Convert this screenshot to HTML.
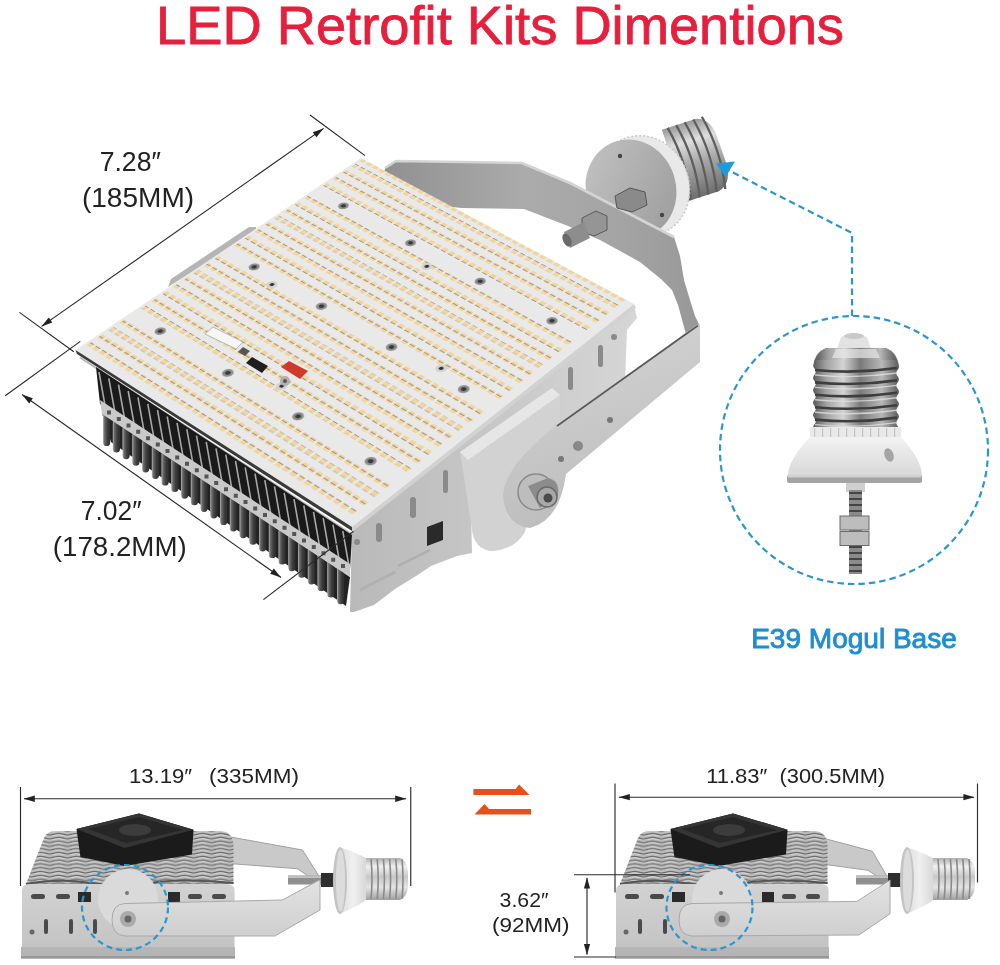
<!DOCTYPE html>
<html><head><meta charset="utf-8">
<style>
html,body{margin:0;padding:0;background:#fff;}
body{width:1000px;height:965px;position:relative;overflow:hidden;font-family:"Liberation Sans",sans-serif;}
svg{position:absolute;left:0;top:0;}
.t{font-family:"Liberation Sans",sans-serif;fill:#222;}
</style></head><body>
<svg width="1000" height="965" viewBox="0 0 1000 965"><defs>
<linearGradient id="gStrap" x1="0" y1="0" x2="1" y2="0">
 <stop offset="0" stop-color="#909090"/><stop offset="0.45" stop-color="#ababab"/><stop offset="0.75" stop-color="#a4a4a4"/><stop offset="1" stop-color="#989898"/>
</linearGradient>
<linearGradient id="gDisc" x1="0" y1="0" x2="1" y2="1">
 <stop offset="0" stop-color="#c4c4c4"/><stop offset="1" stop-color="#9a9a9a"/>
</linearGradient>
<linearGradient id="gScrew" x1="0" y1="0" x2="0" y2="1">
 <stop offset="0" stop-color="#7a7a7a"/><stop offset="0.35" stop-color="#d8d8d8"/><stop offset="0.6" stop-color="#8a8a8a"/><stop offset="1" stop-color="#6a6a6a"/>
</linearGradient>
<linearGradient id="gScrewV" x1="0" y1="0" x2="1" y2="0">
 <stop offset="0" stop-color="#5a5a5a"/><stop offset="0.15" stop-color="#a0a0a0"/><stop offset="0.35" stop-color="#d4d4d4"/><stop offset="0.55" stop-color="#7a7a7a"/><stop offset="0.8" stop-color="#b8b8b8"/><stop offset="1" stop-color="#5a5a5a"/>
</linearGradient>
<linearGradient id="gHouse" x1="0" y1="0" x2="1" y2="0">
 <stop offset="0" stop-color="#b9b9b9"/><stop offset="1" stop-color="#d6d6d6"/>
</linearGradient>
<linearGradient id="gDome" x1="0" y1="0" x2="0" y2="1">
 <stop offset="0" stop-color="#f2f2f2"/><stop offset="1" stop-color="#d8d8d8"/>
</linearGradient>
<pattern id="finsUp" width="10.2" height="40" patternUnits="userSpaceOnUse" patternTransform="skewY(0)">
 <rect width="10.2" height="40" fill="#1f1f1f"/><rect x="0" width="2.4" height="40" fill="#b0b0b0"/>
</pattern>
<pattern id="finsLo" width="10.2" height="60" patternUnits="userSpaceOnUse">
 <rect width="10.2" height="60" fill="#3a3a3a"/><rect x="1" width="3" height="60" fill="#9a9a9a"/><rect x="4" width="2" height="60" fill="#666"/>
</pattern>
<pattern id="wavy" width="18" height="3.8" patternUnits="userSpaceOnUse">
 <rect width="18" height="3.8" fill="#bcbcbc"/>
 <path d="M0,2.1 Q4.5,0.5 9,2.1 T18,2.1" stroke="#666" stroke-width="1.2" fill="none"/>
 <path d="M0,3.3 Q4.5,1.7 9,3.3 T18,3.3" stroke="#e2e2e2" stroke-width="0.7" fill="none"/>
</pattern>
<pattern id="thread" width="4" height="6" patternUnits="userSpaceOnUse">
 <rect width="4" height="6" fill="#8a8a8a"/><rect y="0" width="4" height="2" fill="#444"/>
</pattern>
<linearGradient id="gHouseB" x1="0" y1="0" x2="0" y2="1">
 <stop offset="0" stop-color="#d2d2d2"/><stop offset="1" stop-color="#c4c4c4"/>
</linearGradient>
<linearGradient id="gCone" x1="0" y1="0" x2="1" y2="0">
 <stop offset="0" stop-color="#dcdcdc"/><stop offset="0.5" stop-color="#f0f0f0"/><stop offset="1" stop-color="#d6d6d6"/>
</linearGradient>
<linearGradient id="gBand" x1="0" y1="0" x2="0" y2="1">
 <stop offset="0" stop-color="#e2e2e2"/><stop offset="1" stop-color="#cfcfcf"/>
</linearGradient>
<linearGradient id="gScrewT" x1="0" y1="0" x2="0" y2="1">
 <stop offset="0" stop-color="#9a9a9a"/><stop offset="0.25" stop-color="#dedede"/><stop offset="0.55" stop-color="#a8a8a8"/><stop offset="1" stop-color="#6e6e6e"/>
</linearGradient>
<linearGradient id="gTube" x1="0" y1="0" x2="1" y2="0">
 <stop offset="0" stop-color="#b8b8b8"/><stop offset="0.22" stop-color="#6a6a6a"/><stop offset="0.6" stop-color="#3e3e3e"/><stop offset="1" stop-color="#2c2c2c"/>
</linearGradient>
<linearGradient id="gScrewS" x1="0" y1="0" x2="0" y2="1">
 <stop offset="0" stop-color="#b0b0b0"/><stop offset="0.2" stop-color="#f0f0f0"/><stop offset="0.45" stop-color="#c8c8c8"/><stop offset="0.7" stop-color="#e4e4e4"/><stop offset="1" stop-color="#a0a0a0"/>
</linearGradient>
<linearGradient id="gBandT" x1="0" y1="0" x2="0.3" y2="1">
 <stop offset="0" stop-color="#d6d6d6"/><stop offset="1" stop-color="#bdbdbd"/>
</linearGradient>
</defs><g transform="translate(667,168) rotate(-18)"><path d="M7,-38 L42,-38 Q54,-36 57,-20 L58,17 Q55,36 42,38 L7,38 Z" fill="url(#gScrewT)"/><path d="M13,-38 Q21,0 13,38" stroke="#5e5e5e" stroke-width="2.3" fill="none"/><path d="M22,-38 Q30,0 22,38" stroke="#5e5e5e" stroke-width="2.3" fill="none"/><path d="M31,-38 Q39,0 31,38" stroke="#5e5e5e" stroke-width="2.3" fill="none"/><path d="M40,-38 Q48,0 40,38" stroke="#5e5e5e" stroke-width="2.3" fill="none"/><path d="M49,-38 Q57,0 49,38" stroke="#5e5e5e" stroke-width="2.3" fill="none"/></g><ellipse cx="643" cy="186" rx="46" ry="51" transform="rotate(-22 643 186)" fill="#e9e9e9"/><ellipse cx="643" cy="186" rx="46" ry="51" transform="rotate(-22 643 186)" fill="none" stroke="#c8c8c8" stroke-width="1.5" stroke-dasharray="2 2"/><ellipse cx="631" cy="189" rx="45" ry="50" transform="rotate(-18 631 189)" fill="url(#gDisc)"/><circle cx="620" cy="156" r="2.2" fill="#444"/><circle cx="662" cy="215" r="2.2" fill="#444"/><polygon points="385,168 396,161 522,163 570,183 674,237 680,256 684,280 690,300 695,316 700,326 700,334 686,334 684,327 678,305 672,290 661,279 640,262 600,240 568,226 524,209 462,208 380,200" fill="url(#gStrap)"/><polyline points="385,168 396,161 522,163 570,183 674,237" fill="none" stroke="#d4d4d4" stroke-width="2.6"/><polygon points="615,196 630,188 645,192 647,205 632,212 617,208" fill="#8a8a8a" stroke="#555" stroke-width="1"/><polygon points="582,218 596,211 607,216 607,230 594,236 582,232" fill="#959595" stroke="#5a5a5a" stroke-width="1"/><polygon points="564,232 584,222 590,238 570,248" fill="#8d8d8d"/><ellipse cx="567" cy="240" rx="4" ry="7" transform="rotate(-25 567 240)" fill="#6a6a6a"/><polygon points="168,287 171,279 249,227 256,227 256,232" fill="#b5b5b5"/><polygon points="352,527 634,306 637,318 627,330 625,382 600,420 560,440 470,470 472,553 457,556 431,566 416,576 395,589 374,605 354,612 350,612" fill="url(#gHouse)"/><g fill="#8a8a8a"><rect x="376" y="523" width="6" height="19" rx="3"/><rect x="410" y="497" width="6" height="21" rx="3"/><rect x="443" y="470" width="5" height="23" rx="2.5"/><rect x="568" y="367" width="5" height="23" rx="2.5"/><rect x="598" y="345" width="5" height="22" rx="2.5"/><circle cx="357" cy="542" r="3"/><circle cx="614" cy="337" r="3"/></g><path d="M427,527 L443,521 L443,540 L427,546 Z" fill="#2a2a2a"/><path d="M360,590 L395,572 M398,566 L430,550" stroke="#b0b0b0" stroke-width="3" fill="none"/><line x1="80" y1="357.5" x2="352" y2="534.5" stroke="#b8b8b8" stroke-width="2"/><polygon points="96,367 352,535 350,570 100,404" fill="#1a1a1a"/><path d="M99.0,372.0 L105.0,405.3 M108.8,378.3 L114.8,411.7 M118.5,384.7 L124.5,418.1 M128.2,391.0 L134.2,424.5 M138.0,397.4 L144.0,430.9 M147.8,403.8 L153.8,437.3 M157.5,410.1 L163.5,443.7 M167.2,416.5 L173.2,450.1 M177.0,422.8 L183.0,456.4 M186.8,429.2 L192.8,462.8 M196.5,435.6 L202.5,469.2 M206.2,441.9 L212.2,475.6 M216.0,448.3 L222.0,482.0 M225.8,454.6 L231.8,488.4 M235.5,461.0 L241.5,494.8 M245.2,467.4 L251.2,501.2 M255.0,473.7 L261.0,507.6 M264.8,480.1 L270.8,514.0 M274.5,486.4 L280.5,520.4 M284.2,492.8 L290.2,526.8 M294.0,499.2 L300.0,533.2 M303.8,505.5 L309.8,539.6 M313.5,511.9 L319.5,546.0 M323.2,518.2 L329.2,552.4 M333.0,524.6 L339.0,558.8 M342.8,531.0 L348.8,565.2" stroke="#a8a8a8" stroke-width="1.6" fill="none"/><polygon points="102,413 350,577 346,606 111,442" fill="#222"/><rect x="103.0" y="413.0" width="7.2" height="33.0" rx="3.6" fill="url(#gTube)"/><rect x="112.8" y="419.4" width="7.2" height="33.2" rx="3.6" fill="url(#gTube)"/><rect x="122.5" y="425.8" width="7.2" height="33.4" rx="3.6" fill="url(#gTube)"/><rect x="132.2" y="432.2" width="7.2" height="33.6" rx="3.6" fill="url(#gTube)"/><rect x="142.0" y="438.6" width="7.2" height="33.8" rx="3.6" fill="url(#gTube)"/><rect x="151.8" y="444.9" width="7.2" height="34.0" rx="3.6" fill="url(#gTube)"/><rect x="161.5" y="451.3" width="7.2" height="34.2" rx="3.6" fill="url(#gTube)"/><rect x="171.2" y="457.7" width="7.2" height="34.4" rx="3.6" fill="url(#gTube)"/><rect x="181.0" y="464.1" width="7.2" height="34.6" rx="3.6" fill="url(#gTube)"/><rect x="190.8" y="470.5" width="7.2" height="34.8" rx="3.6" fill="url(#gTube)"/><rect x="200.5" y="476.9" width="7.2" height="35.0" rx="3.6" fill="url(#gTube)"/><rect x="210.2" y="483.3" width="7.2" height="35.1" rx="3.6" fill="url(#gTube)"/><rect x="220.0" y="489.7" width="7.2" height="35.3" rx="3.6" fill="url(#gTube)"/><rect x="229.8" y="496.1" width="7.2" height="35.5" rx="3.6" fill="url(#gTube)"/><rect x="239.5" y="502.5" width="7.2" height="35.7" rx="3.6" fill="url(#gTube)"/><rect x="249.2" y="508.9" width="7.2" height="35.9" rx="3.6" fill="url(#gTube)"/><rect x="259.0" y="515.3" width="7.2" height="36.1" rx="3.6" fill="url(#gTube)"/><rect x="268.8" y="521.7" width="7.2" height="36.3" rx="3.6" fill="url(#gTube)"/><rect x="278.5" y="528.1" width="7.2" height="36.5" rx="3.6" fill="url(#gTube)"/><rect x="288.2" y="534.5" width="7.2" height="36.7" rx="3.6" fill="url(#gTube)"/><rect x="298.0" y="540.9" width="7.2" height="36.9" rx="3.6" fill="url(#gTube)"/><rect x="307.8" y="547.3" width="7.2" height="37.1" rx="3.6" fill="url(#gTube)"/><rect x="317.5" y="553.7" width="7.2" height="37.3" rx="3.6" fill="url(#gTube)"/><rect x="327.2" y="560.1" width="7.2" height="37.5" rx="3.6" fill="url(#gTube)"/><rect x="337.0" y="566.5" width="7.2" height="37.7" rx="3.6" fill="url(#gTube)"/><polygon points="100,400 350,564 350,577 102,414" fill="#c9c9c9"/><path d="M107.0,410.6 h4 v4 h-4 Z M116.8,417.0 h4 v4 h-4 Z M126.5,423.4 h4 v4 h-4 Z M136.2,429.8 h4 v4 h-4 Z M146.0,436.2 h4 v4 h-4 Z M155.8,442.6 h4 v4 h-4 Z M165.5,449.0 h4 v4 h-4 Z M175.2,455.4 h4 v4 h-4 Z M185.0,461.8 h4 v4 h-4 Z M194.8,468.2 h4 v4 h-4 Z M204.5,474.6 h4 v4 h-4 Z M214.2,480.9 h4 v4 h-4 Z M224.0,487.3 h4 v4 h-4 Z M233.8,493.7 h4 v4 h-4 Z M243.5,500.1 h4 v4 h-4 Z M253.2,506.5 h4 v4 h-4 Z M263.0,512.9 h4 v4 h-4 Z M272.8,519.3 h4 v4 h-4 Z M282.5,525.7 h4 v4 h-4 Z M292.2,532.1 h4 v4 h-4 Z M302.0,538.5 h4 v4 h-4 Z M311.8,544.9 h4 v4 h-4 Z M321.5,551.3 h4 v4 h-4 Z M331.2,557.7 h4 v4 h-4 Z M341.0,564.1 h4 v4 h-4 Z" fill="#555"/></svg>
<div style="position:absolute;left:0;top:0;width:400px;height:400px;transform-origin:0 0;transform:matrix3d(0.56953482,0.31083373,0,-0.00017817851,-0.72985931,0.40532109,0,-0.00021336832,0,0,1,0,361,158,0,1)"><svg width="400" height="400" viewBox="0 0 400 400" style="display:block;position:static"><defs><pattern id="ledrow" width="10" height="6" patternUnits="userSpaceOnUse"><rect x="1.6" y="0" width="6.8" height="4.8" fill="#f2d597"/><rect x="1.6" y="4.8" width="6.8" height="1.2" fill="#9a938a"/></pattern></defs><rect width="400" height="400" fill="#e9e9ea"/><rect x="3" y="-1.5" width="388" height="6" fill="url(#ledrow)"/><rect x="3" y="10.8" width="388" height="6" fill="url(#ledrow)"/><rect x="3" y="25.2" width="388" height="6" fill="url(#ledrow)"/><rect x="3" y="39.6" width="388" height="6" fill="url(#ledrow)"/><rect x="3" y="54.0" width="388" height="6" fill="url(#ledrow)"/><rect x="3" y="82.0" width="388" height="6" fill="url(#ledrow)"/><rect x="3" y="96.4" width="388" height="6" fill="url(#ledrow)"/><rect x="3" y="110.9" width="388" height="6" fill="url(#ledrow)"/><rect x="3" y="125.3" width="388" height="6" fill="url(#ledrow)"/><rect x="3" y="139.7" width="388" height="6" fill="url(#ledrow)"/><rect x="3" y="154.1" width="388" height="6" fill="url(#ledrow)"/><rect x="3" y="168.6" width="388" height="6" fill="url(#ledrow)"/><rect x="3" y="183.0" width="388" height="6" fill="url(#ledrow)"/><rect x="3" y="211.0" width="388" height="6" fill="url(#ledrow)"/><rect x="3" y="225.3" width="388" height="6" fill="url(#ledrow)"/><rect x="3" y="239.6" width="388" height="6" fill="url(#ledrow)"/><rect x="3" y="253.9" width="388" height="6" fill="url(#ledrow)"/><rect x="3" y="268.1" width="388" height="6" fill="url(#ledrow)"/><rect x="3" y="282.4" width="388" height="6" fill="url(#ledrow)"/><rect x="3" y="296.7" width="388" height="6" fill="url(#ledrow)"/><rect x="3" y="311.0" width="388" height="6" fill="url(#ledrow)"/><rect x="3" y="339.0" width="388" height="6" fill="url(#ledrow)"/><rect x="3" y="353.4" width="388" height="6" fill="url(#ledrow)"/><rect x="3" y="367.8" width="388" height="6" fill="url(#ledrow)"/><rect x="3" y="382.2" width="388" height="6" fill="url(#ledrow)"/><circle cx="46" cy="71" r="5.8" fill="#8e8e8e"/><circle cx="46" cy="71" r="2.8" fill="#3a3a3a"/><circle cx="148" cy="71" r="5.8" fill="#8e8e8e"/><circle cx="148" cy="71" r="2.8" fill="#3a3a3a"/><circle cx="250" cy="71" r="5.8" fill="#8e8e8e"/><circle cx="250" cy="71" r="2.8" fill="#3a3a3a"/><circle cx="351" cy="71" r="5.8" fill="#8e8e8e"/><circle cx="351" cy="71" r="2.8" fill="#3a3a3a"/><circle cx="46" cy="200" r="5.8" fill="#8e8e8e"/><circle cx="46" cy="200" r="2.8" fill="#3a3a3a"/><circle cx="148" cy="200" r="5.8" fill="#8e8e8e"/><circle cx="148" cy="200" r="2.8" fill="#3a3a3a"/><circle cx="250" cy="200" r="5.8" fill="#8e8e8e"/><circle cx="250" cy="200" r="2.8" fill="#3a3a3a"/><circle cx="351" cy="200" r="5.8" fill="#8e8e8e"/><circle cx="351" cy="200" r="2.8" fill="#3a3a3a"/><circle cx="46" cy="328" r="5.8" fill="#8e8e8e"/><circle cx="46" cy="328" r="2.8" fill="#3a3a3a"/><circle cx="148" cy="328" r="5.8" fill="#8e8e8e"/><circle cx="148" cy="328" r="2.8" fill="#3a3a3a"/><circle cx="250" cy="328" r="5.8" fill="#8e8e8e"/><circle cx="250" cy="328" r="2.8" fill="#3a3a3a"/><circle cx="351" cy="328" r="5.8" fill="#8e8e8e"/><circle cx="351" cy="328" r="2.8" fill="#3a3a3a"/><circle cx="189" cy="88" r="5.8" fill="#d2d2d2"/><circle cx="189" cy="88" r="2.4" fill="#333"/><circle cx="82" cy="208" r="5.8" fill="#d2d2d2"/><circle cx="82" cy="208" r="2.4" fill="#333"/><circle cx="312" cy="192" r="5.8" fill="#d2d2d2"/><circle cx="312" cy="192" r="2.4" fill="#333"/><circle cx="205" cy="308" r="5.8" fill="#d2d2d2"/><circle cx="205" cy="308" r="2.4" fill="#333"/></svg></div>
<svg width="1000" height="965" viewBox="0 0 1000 965"><polygon points="75.5,350 352,527 352,531 77,354" fill="#3a3a3a"/><polygon points="205,334 213,327 243,342 236,349" fill="#f6f6f6" stroke="#aaa" stroke-width="0.8"/><polygon points="238,352 243,347 250,351 245,356" fill="#555"/><polygon points="246,363 252,357 268,366 262,373" fill="#1e1e1e"/><polygon points="281,367 289,361 308,371 300,379" fill="#d03a2a"/><circle cx="285" cy="381" r="5" fill="#b0b0b0"/><circle cx="285" cy="381" r="2" fill="#555"/><polygon points="352,527 634,304 636,308 352,532" fill="#d2d2d2"/><path d="M460,452 L552,388 L560,395 L560,430 L540,470 L525,532 Q515,550 490,551 Q474,548 472,530 L463,470 Z" fill="#d2d2d2"/><path d="M460,452 L552,388 L560,395 L468,460 Z" fill="#e6e6e6"/><path d="M698,324 L700,326 L700,362 L566,474 Q560,520 530,528 Q505,525 503,495 Q505,465 557,425 Z" fill="url(#gBandT)"/><path d="M698,325.5 L557,426" stroke="#5a5a5a" stroke-width="1.6" fill="none"/><circle cx="536" cy="492" r="18" fill="#bdbdbd" stroke="#8a8a8a" stroke-width="1.5"/><path d="M528,486 L548,478 Q560,480 558,496 L540,508 Z" fill="#8c8c8c"/><circle cx="547" cy="497" r="10" fill="#a8a8a8" stroke="#6a6a6a" stroke-width="1.5"/><circle cx="548" cy="498" r="4.5" fill="#4a4a4a"/><circle cx="610" cy="420" r="3" fill="#777"/><circle cx="578" cy="446" r="5" fill="#888"/><circle cx="561" cy="459" r="3" fill="#777"/><g stroke="#2a2a2a" stroke-width="1.15" fill="none"><line x1="310" y1="115" x2="365" y2="155.6"/><line x1="19.4" y1="312.4" x2="73.8" y2="351.8"/><line x1="41.5" y1="326.4" x2="323.6" y2="128.4"/><line x1="5.2" y1="395.8" x2="80.3" y2="341.4"/><line x1="263.4" y1="599.6" x2="353.5" y2="531.2"/><line x1="22" y1="394.5" x2="281" y2="577.5"/></g><polygon points="323.6,128.4 316.4,137.3 312.8,132.2" fill="#222"/><polygon points="41.5,326.4 48.7,317.5 52.3,322.6" fill="#222"/><polygon points="22.0,394.5 32.8,398.3 29.2,403.4" fill="#222"/><polygon points="281.0,577.5 270.2,573.7 273.8,568.6" fill="#222"/><text x="99.67" y="171.10" font-size="27" font-weight="normal" fill="#222" font-family="Liberation Sans" textLength="61.25" lengthAdjust="spacingAndGlyphs">7.28″</text><text x="81.94" y="206.90" font-size="27" font-weight="normal" fill="#222" font-family="Liberation Sans" textLength="112.14" lengthAdjust="spacingAndGlyphs">(185MM)</text><text x="80.73" y="520.10" font-size="27" font-weight="normal" fill="#222" font-family="Liberation Sans" textLength="60.98" lengthAdjust="spacingAndGlyphs">7.02″</text><text x="52.86" y="555.90" font-size="27" font-weight="normal" fill="#222" font-family="Liberation Sans" textLength="133.80" lengthAdjust="spacingAndGlyphs">(178.2MM)</text><g stroke="#2a97d0" stroke-width="2.2" fill="none" stroke-dasharray="6.5 4"><circle cx="854" cy="450" r="134"/><polyline points="852,316 852,233 728,170"/></g><polygon points="716,163.5 735,161.5 725.5,177" fill="#1d9be0"/><path d="M837,349 L841,337 Q854,331 867,337 L871,349 Z" fill="#e2e2e2"/><ellipse cx="854" cy="336" rx="10" ry="3" fill="#c9c9c9"/><path d="M826,348 L886,348 Q897,352 899,366 L898.9,367.5 L898.3,369.1 L897.2,370.6 L896.4,372.1 L896.3,373.7 L896.9,375.2 L898.0,376.8 L898.8,378.4 L898.9,379.9 L898.3,381.4 L897.2,383.0 L896.4,384.6 L896.3,386.1 L896.9,387.6 L898.0,389.2 L898.8,390.8 L898.9,392.3 L898.3,393.9 L897.2,395.4 L896.4,396.9 L896.3,398.5 L896.9,400.1 L898.0,401.6 L898.8,403.1 L898.9,404.7 L898.3,406.2 L897.2,407.8 L896.4,409.4 L896.3,410.9 L896.9,412.4 L898.0,414.0 L898.8,415.6 L898.9,417.1 L898.3,418.6 L897.2,420.2 L896.4,421.8 L896.3,423.3 L896.9,424.9 L898.0,426.4 L898.8,427.9 L898.9,429.5 L813,429 L813.1,428.0 L813.2,426.4 L814.0,424.9 L815.1,423.4 L815.7,421.8 L815.6,420.2 L814.8,418.7 L813.7,417.1 L813.1,415.6 L813.2,414.1 L814.0,412.5 L815.1,410.9 L815.7,409.4 L815.6,407.9 L814.8,406.3 L813.7,404.8 L813.1,403.2 L813.2,401.6 L814.0,400.1 L815.1,398.6 L815.7,397.0 L815.6,395.4 L814.8,393.9 L813.7,392.4 L813.1,390.8 L813.2,389.2 L814.0,387.7 L815.1,386.1 L815.7,384.6 L815.6,383.1 L814.8,381.5 L813.7,379.9 L813.1,378.4 L813.2,376.9 L814.0,375.3 L815.1,373.8 L815.7,372.2 L815.6,370.6 L814.8,369.1 L813.7,367.6 L813.1,366.0 Q815,352 826,348 Z" fill="url(#gScrewV)"/><path d="M815,370.0 Q856,374.0 897,368.0" stroke="#3e3e3e" stroke-width="2.6" fill="none"/><path d="M815,375.0 Q856,379.0 897,373.0" stroke="#e0e0e0" stroke-width="1.4" fill="none" opacity="0.8"/><path d="M815,382.4 Q856,386.4 897,380.4" stroke="#3e3e3e" stroke-width="2.6" fill="none"/><path d="M815,387.4 Q856,391.4 897,385.4" stroke="#e0e0e0" stroke-width="1.4" fill="none" opacity="0.8"/><path d="M815,394.8 Q856,398.8 897,392.8" stroke="#3e3e3e" stroke-width="2.6" fill="none"/><path d="M815,399.8 Q856,403.8 897,397.8" stroke="#e0e0e0" stroke-width="1.4" fill="none" opacity="0.8"/><path d="M815,407.2 Q856,411.2 897,405.2" stroke="#3e3e3e" stroke-width="2.6" fill="none"/><path d="M815,412.2 Q856,416.2 897,410.2" stroke="#e0e0e0" stroke-width="1.4" fill="none" opacity="0.8"/><path d="M815,419.6 Q856,423.6 897,417.6" stroke="#3e3e3e" stroke-width="2.6" fill="none"/><path d="M815,424.6 Q856,428.6 897,422.6" stroke="#e0e0e0" stroke-width="1.4" fill="none" opacity="0.8"/><path d="M826,348 L886,348 Q893,351 896,360 L816,360 Q819,351 826,348 Z" fill="url(#gScrewV)"/><path d="M836,349 L876,349 L880,358 L832,358 Z" fill="#e8e8e8" opacity="0.7"/><rect x="810" y="427" width="91" height="11" fill="#e9e9e9"/><rect x="814" y="428" width="1.2" height="9" fill="#c4c4c4"/><rect x="822" y="428" width="1.2" height="9" fill="#c4c4c4"/><rect x="830" y="428" width="1.2" height="9" fill="#c4c4c4"/><rect x="838" y="428" width="1.2" height="9" fill="#c4c4c4"/><rect x="846" y="428" width="1.2" height="9" fill="#c4c4c4"/><rect x="854" y="428" width="1.2" height="9" fill="#c4c4c4"/><rect x="862" y="428" width="1.2" height="9" fill="#c4c4c4"/><rect x="870" y="428" width="1.2" height="9" fill="#c4c4c4"/><rect x="878" y="428" width="1.2" height="9" fill="#c4c4c4"/><rect x="886" y="428" width="1.2" height="9" fill="#c4c4c4"/><rect x="894" y="428" width="1.2" height="9" fill="#c4c4c4"/><path d="M810,437 L901,437 Q922,460 922,476 L788,476 Q788,460 810,437 Z" fill="url(#gDome)"/><ellipse cx="889" cy="455" rx="4.5" ry="7" transform="rotate(-20 889 455)" fill="#a5a5a5"/><rect x="787" y="475" width="135" height="8" rx="2" fill="#a4a4a4"/><rect x="788" y="475" width="133" height="2.5" fill="#d0d0d0"/><rect x="846" y="483" width="19" height="9" fill="#cfcfcf"/><rect x="849" y="490" width="13" height="84" fill="url(#thread)"/><rect x="840" y="516" width="29" height="14" fill="#bdbdbd" stroke="#6a6a6a" stroke-width="1"/><rect x="840" y="531.5" width="29" height="14" fill="#bdbdbd" stroke="#6a6a6a" stroke-width="1"/><text x="751.17" y="648.00" font-size="28.4" font-weight="normal" fill="#1c8fd3" stroke="#1c8fd3" stroke-width="0.9" font-family="Liberation Sans" textLength="205.65" lengthAdjust="spacingAndGlyphs">E39 Mogul Base</text><polygon points="225,836 302.5,850 319.5,877 316,882 313.75,880 297.5,868.75 232.5,863.75" fill="#c9c9c9" stroke="#a0a0a0" stroke-width="1"/><rect x="288" y="875.5" width="45" height="9" fill="#8f8f8f"/><rect x="288" y="875.5" width="45" height="2.5" fill="#c0c0c0"/><rect x="321" y="873" width="13" height="14" fill="#2e2e2e"/><path d="M339,847 Q355,852 367,858.5 L367,899.5 Q355,908 339,914 Z" fill="url(#gCone)"/><ellipse cx="340" cy="880.5" rx="7" ry="33.5" fill="#c4c4c4"/><ellipse cx="340.5" cy="880.5" rx="4.5" ry="31" fill="#dcdcdc"/><path d="M366,858 L400,858 Q407,861 408,871 L408,887 Q407,897 400,900 L366,900 Z" fill="url(#gScrewS)"/><path d="M371.0,859 Q373.0,879 371.0,899" stroke="#8a8a8a" stroke-width="1.6" fill="none"/><path d="M377.2,859 Q379.2,879 377.2,899" stroke="#8a8a8a" stroke-width="1.6" fill="none"/><path d="M383.4,859 Q385.4,879 383.4,899" stroke="#8a8a8a" stroke-width="1.6" fill="none"/><path d="M389.6,859 Q391.6,879 389.6,899" stroke="#8a8a8a" stroke-width="1.6" fill="none"/><path d="M395.8,859 Q397.8,879 395.8,899" stroke="#8a8a8a" stroke-width="1.6" fill="none"/><path d="M402.0,859 Q404.0,879 402.0,899" stroke="#8a8a8a" stroke-width="1.6" fill="none"/><g id="bodyL"><path d="M26,884 L44,838 Q47,831 56,831 L221,831 Q233,832 233.5,846 L233.5,884 Z" fill="url(#wavy)"/><path d="M26,884 Q60,878 90,883 T150,883 T233.5,883" stroke="#555" stroke-width="2" fill="none"/><path d="M22,947 L22,891 Q22,884 30,884 L227,884 Q234.6,884 234.6,891 L234.6,947 Z" fill="url(#gHouseB)"/><rect x="21" y="947" width="214" height="11.5" fill="#b5b5b5"/><rect x="21" y="956" width="214" height="2.5" fill="#999"/><rect x="31" y="894" width="14" height="5" rx="2.5" fill="#4a4a4a"/><rect x="56" y="894" width="14" height="5" rx="2.5" fill="#4a4a4a"/><rect x="188" y="894" width="14" height="5" rx="2.5" fill="#4a4a4a"/><rect x="212" y="894" width="14" height="5" rx="2.5" fill="#4a4a4a"/><rect x="78" y="892" width="13" height="10" fill="#2a2a2a"/><rect x="168" y="892" width="12" height="10" fill="#2a2a2a"/><rect x="44" y="919" width="4" height="15" rx="2" fill="#4a4a4a"/><rect x="69" y="919" width="4" height="15" rx="2" fill="#4a4a4a"/><rect x="93" y="919" width="4" height="15" rx="2" fill="#4a4a4a"/><circle cx="32" cy="932" r="2.5" fill="#666"/><circle cx="128" cy="899" r="30" fill="#dadada"/><circle cx="127" cy="893" r="2" fill="#777"/><path d="M76.5,829 L139,813.5 L193.5,829.7 L192,854.4 L124.6,866 L80.4,857 Z" fill="#1b1b1b"/><path d="M76.5,829 L139,813.5 L193.5,829.7 L124.6,848 Z" fill="#353535"/><path d="M88,829 L139,817 L183,830 L126,843 Z" fill="#262626"/><ellipse cx="135" cy="830" rx="16" ry="6" fill="#3c3c3c"/></g><path d="M112,920 Q112,904 125,903.5 L282.5,900 L317.5,881 L320,880 L320,910 L275,936 L125,936 Q112,935 112,920 Z" fill="url(#gBand)" stroke="#a9a9a9" stroke-width="1"/><circle cx="128" cy="919" r="8" fill="#aaa"/><circle cx="128" cy="919" r="3.5" fill="#666"/><polygon points="819,837 872.4,851.3 888,878 885,882 884.7,881.4 868,870.3 826.7,864.7" fill="#c9c9c9" stroke="#a0a0a0" stroke-width="1"/><rect x="856" y="875.5" width="44" height="9" fill="#8f8f8f"/><rect x="856" y="875.5" width="44" height="2.5" fill="#c0c0c0"/><rect x="888" y="873" width="13" height="14" fill="#2e2e2e"/><path d="M906,847 Q922,852 934,858.5 L934,899.5 Q922,908 906,914 Z" fill="url(#gCone)"/><ellipse cx="907" cy="880.5" rx="7" ry="33.5" fill="#c4c4c4"/><ellipse cx="907.5" cy="880.5" rx="4.5" ry="31" fill="#dcdcdc"/><path d="M933,858 L967,858 Q974,861 975,871 L975,887 Q974,897 967,900 L933,900 Z" fill="url(#gScrewS)"/><path d="M938.0,859 Q940.0,879 938.0,899" stroke="#8a8a8a" stroke-width="1.6" fill="none"/><path d="M944.2,859 Q946.2,879 944.2,899" stroke="#8a8a8a" stroke-width="1.6" fill="none"/><path d="M950.4,859 Q952.4,879 950.4,899" stroke="#8a8a8a" stroke-width="1.6" fill="none"/><path d="M956.6,859 Q958.6,879 956.6,899" stroke="#8a8a8a" stroke-width="1.6" fill="none"/><path d="M962.8,859 Q964.8,879 962.8,899" stroke="#8a8a8a" stroke-width="1.6" fill="none"/><path d="M969.0,859 Q971.0,879 969.0,899" stroke="#8a8a8a" stroke-width="1.6" fill="none"/><use href="#bodyL" transform="translate(594,0)"/><path d="M679,920 Q679,904 692,903.5 L856.8,901.4 L888,881.4 L890,880 L890,913.7 L859,935 L692,936 Q679,935 679,920 Z" fill="url(#gBand)" stroke="#a9a9a9" stroke-width="1"/><circle cx="722" cy="919" r="8" fill="#aaa"/><circle cx="722" cy="919" r="3.5" fill="#666"/><g stroke="#2a97d0" stroke-width="2.2" fill="none" stroke-dasharray="6 4"><ellipse cx="125" cy="907.5" rx="43" ry="42.5"/><ellipse cx="709.5" cy="907.5" rx="43" ry="42.5"/></g><g stroke="#2a2a2a" stroke-width="1.15" fill="none"><line x1="20.5" y1="787" x2="20.5" y2="886"/><line x1="410.75" y1="787" x2="410.75" y2="886"/><line x1="24" y1="798.75" x2="406" y2="798.75"/><line x1="615" y1="783.5" x2="615" y2="892.5"/><line x1="977.5" y1="783.5" x2="977.5" y2="882.5"/><line x1="619" y1="797.2" x2="974" y2="797.2"/><line x1="574" y1="874.7" x2="690" y2="874.7"/><line x1="574" y1="957" x2="616" y2="957"/><line x1="587" y1="878" x2="587" y2="954.5"/></g><polygon points="23.8,798.8 34.8,795.6 34.8,801.9" fill="#222"/><polygon points="406.2,798.8 395.2,801.9 395.2,795.6" fill="#222"/><polygon points="618.8,797.2 629.8,794.1 629.8,800.3" fill="#222"/><polygon points="974.4,797.2 963.4,800.3 963.4,794.1" fill="#222"/><polygon points="587.0,877.5 590.1,888.5 583.9,888.5" fill="#222"/><polygon points="587.0,955.0 583.9,944.0 590.1,944.0" fill="#222"/><text x="128.90" y="782.80" font-size="20.6" font-weight="normal" fill="#222" font-family="Liberation Sans" textLength="63.22" lengthAdjust="spacingAndGlyphs">13.19″</text><text x="209.04" y="783.00" font-size="20.6" font-weight="normal" fill="#222" font-family="Liberation Sans" textLength="89.89" lengthAdjust="spacingAndGlyphs">(335MM)</text><text x="706.15" y="782.80" font-size="20.6" font-weight="normal" fill="#222" font-family="Liberation Sans" textLength="61.19" lengthAdjust="spacingAndGlyphs">11.83″</text><text x="779.57" y="782.80" font-size="20.6" font-weight="normal" fill="#222" font-family="Liberation Sans" textLength="105.56" lengthAdjust="spacingAndGlyphs">(300.5MM)</text><text x="499.57" y="906.50" font-size="21" font-weight="normal" fill="#222" font-family="Liberation Sans" textLength="48.96" lengthAdjust="spacingAndGlyphs">3.62″</text><text x="491.97" y="932.00" font-size="21" font-weight="normal" fill="#222" font-family="Liberation Sans" textLength="77.58" lengthAdjust="spacingAndGlyphs">(92MM)</text><polygon points="473.4,789 515.7,789 519,784.5 529.5,795 473.4,795" fill="#e8501a"/><polygon points="474.5,814.6 484.5,804 489,809 531,809 531,814.6" fill="#e8501a"/></svg>
<div style="position:absolute;left:156px;top:-1px;font-size:54.3px;color:#e61f3d;white-space:nowrap;line-height:1;-webkit-text-stroke:0.8px #e61f3d">LED Retrofit Kits Dimentions</div>
</body></html>
